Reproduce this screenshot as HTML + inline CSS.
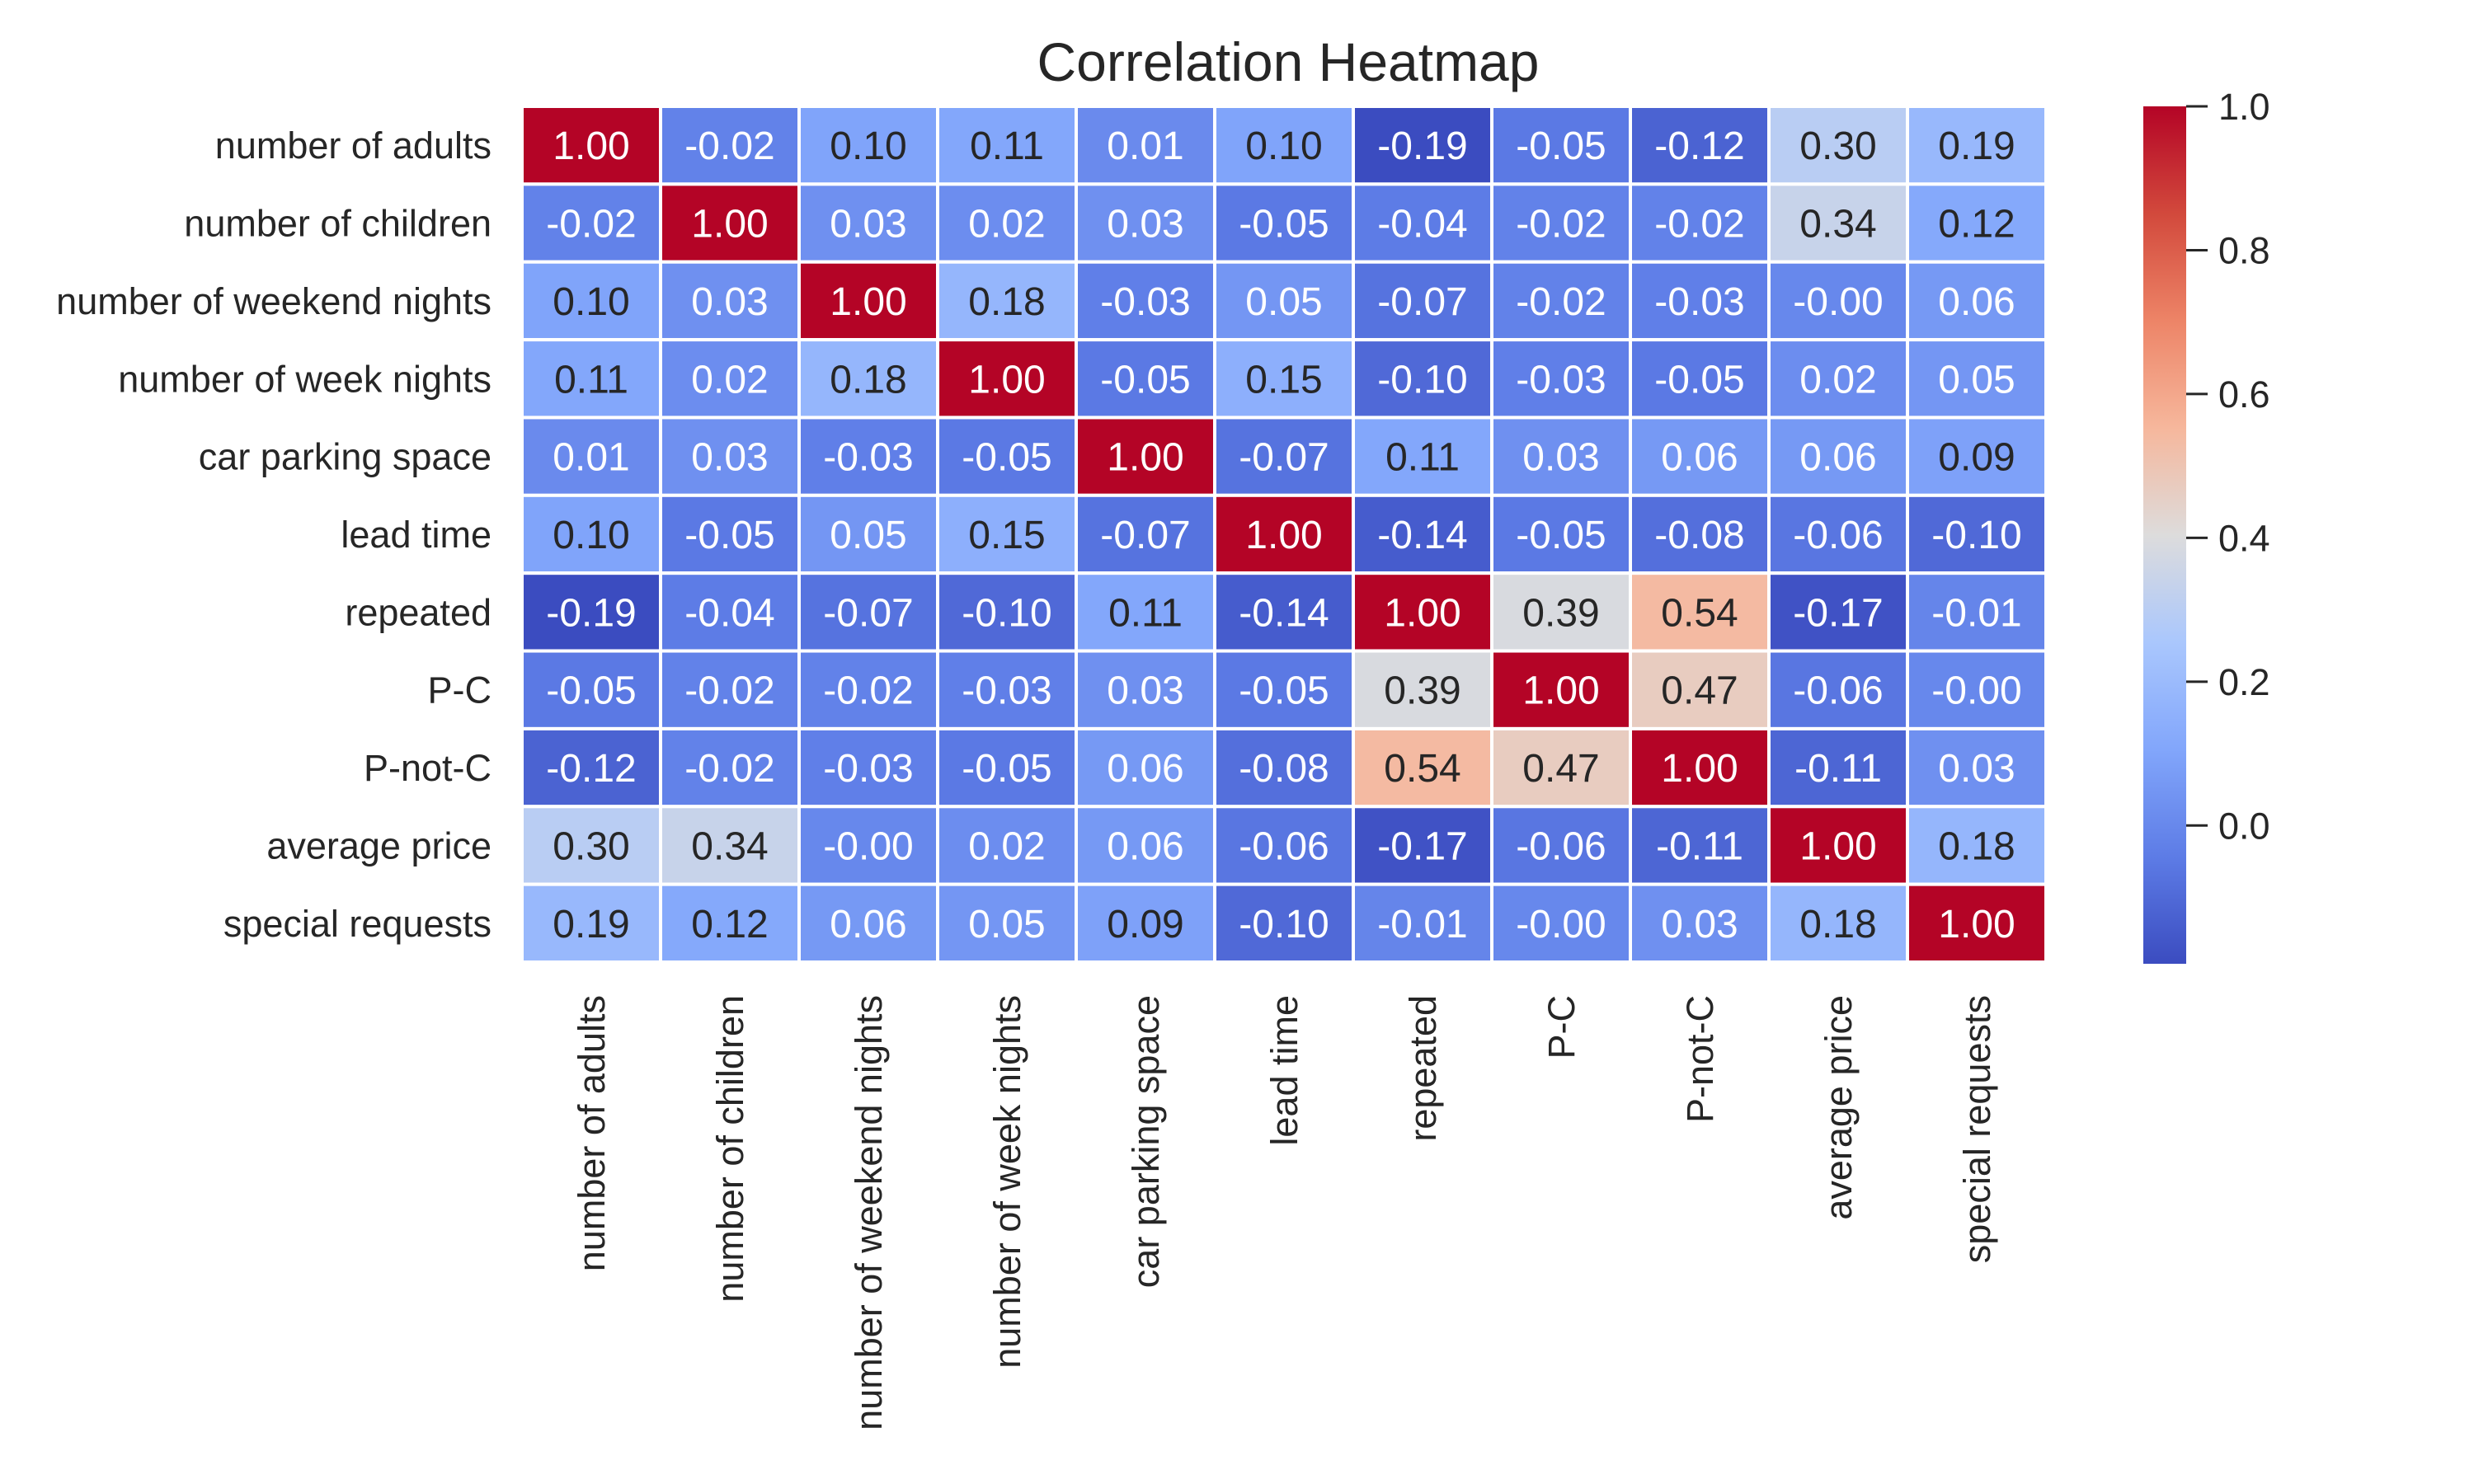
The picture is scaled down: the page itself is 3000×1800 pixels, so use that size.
<!DOCTYPE html>
<html><head><meta charset="utf-8"><style>body{margin:0;background:#fff}svg{display:block}</style></head>
<body>
<svg id="chart" width="3000" height="1800" xmlns="http://www.w3.org/2000/svg" font-family="Liberation Sans, Arial, sans-serif">
<text x="1562" y="98" font-size="66" text-anchor="middle" fill="#262626">Correlation Heatmap</text>
<g id="cells"></g><g id="ylabels"></g><g id="xlabels"></g>
<defs><linearGradient id="cg" x1="0" y1="1" x2="0" y2="0"></linearGradient></defs>
<rect x="2599" y="129" width="52" height="1040" fill="url(#cg)"/>
<g id="cbticks"></g>
</svg>
<script>
const labels=["number of adults","number of children","number of weekend nights","number of week nights","car parking space","lead time","repeated","P-C","P-not-C","average price","special requests"];
const row0=[1.00,-0.02,0.10,0.11,0.01,0.10,-0.19,-0.05,-0.12,0.30,0.19];
const row1=[-0.02,1.00,0.03,0.02,0.03,-0.05,-0.04,-0.02,-0.02,0.34,0.12];
const row2=[0.10,0.03,1.00,0.18,-0.03,0.05,-0.07,-0.02,-0.03,-0.00,0.06];
const row3=[0.11,0.02,0.18,1.00,-0.05,0.15,-0.10,-0.03,-0.05,0.02,0.05];
const row4=[0.01,0.03,-0.03,-0.05,1.00,-0.07,0.11,0.03,0.06,0.06,0.09];
const row5=[0.10,-0.05,0.05,0.15,-0.07,1.00,-0.14,-0.05,-0.08,-0.06,-0.10];
const row6=[-0.19,-0.04,-0.07,-0.10,0.11,-0.14,1.00,0.39,0.54,-0.17,-0.01];
const row7=[-0.05,-0.02,-0.02,-0.03,0.03,-0.05,0.39,1.00,0.47,-0.06,-0.00];
const row8=[-0.12,-0.02,-0.03,-0.05,0.06,-0.08,0.54,0.47,1.00,-0.11,0.03];
const row9=[0.30,0.34,-0.00,0.02,0.06,-0.06,-0.17,-0.06,-0.11,1.00,0.18];
const row10=[0.19,0.12,0.06,0.05,0.09,-0.10,-0.01,-0.00,0.03,0.18,1.00];
const cbTicks=[0.0,0.2,0.4,0.6,0.8,1.0];
const vmin=-0.19, vmax=1.0;
const matrix=[row0,row1,row2,row3,row4,row5,row6,row7,row8,row9,row10];
const L=633,T=129,W=1848,H=1038,n=labels.length,cw=W/n,ch=H/n;
const stops=[[59,76,192],[93,124,230],[130,166,251],[170,199,253],[221,220,220],[246,183,156],[237,132,103],[210,73,60],[180,4,38]];
function cmap(v){let t=Math.max(0,Math.min(1,(v-vmin)/(vmax-vmin)))*8;let i=Math.min(7,Math.floor(t)),f=t-i;
return stops[i].map((c,k)=>Math.round(c+(stops[i+1][k]-c)*f));}
function lum(c){const l=c.map(x=>{x/=255;return x<=0.03928?x/12.92:Math.pow((x+0.055)/1.055,2.4)});return 0.2126*l[0]+0.7152*l[1]+0.0722*l[2];}
const thr=lum(cmap(0.075));
function fmt(v){return (Object.is(v,-0)?"-":"")+v.toFixed(2);}
const ns="http://www.w3.org/2000/svg";
const xs=i=>L+i*cw, ys=j=>T+j*ch;
const yScale=v=>T+H*(vmax-v)/(vmax-vmin);
const cells=document.getElementById('cells');
matrix.forEach((row,j)=>row.forEach((v,i)=>{
 const c=cmap(v);
 const r=document.createElementNS(ns,'rect');
 r.setAttribute('x',xs(i));r.setAttribute('y',ys(j));r.setAttribute('width',cw);r.setAttribute('height',ch);
 r.setAttribute('fill',`rgb(${c})`);r.setAttribute('stroke','#fff');r.setAttribute('stroke-width','4');
 
 
 cells.appendChild(r);
 const t=document.createElementNS(ns,'text');
 t.setAttribute('x',xs(i)+cw/2);t.setAttribute('y',ys(j)+ch/2+17);t.setAttribute('font-size','48');
 t.setAttribute('text-anchor','middle');t.setAttribute('fill',lum(c)>thr?'#262626':'#fff');
 t.textContent=fmt(v);
 
 
 cells.appendChild(t);
}));
const yl=document.getElementById('ylabels'),xl=document.getElementById('xlabels');
labels.forEach((s,k)=>{
 const t=document.createElementNS(ns,'text');
 t.setAttribute('x',596);t.setAttribute('y',ys(k)+ch/2+16);t.setAttribute('font-size','45');t.setAttribute('text-anchor','end');t.setAttribute('fill','#262626');
 t.textContent=s;
 
 
 yl.appendChild(t);
 const u=document.createElementNS(ns,'text');
 const cx=xs(k)+cw/2+16;
 u.setAttribute('x',cx);u.setAttribute('y',1207);u.setAttribute('font-size','45');u.setAttribute('text-anchor','end');u.setAttribute('fill','#262626');
 u.setAttribute('transform',`rotate(-90 ${cx} 1207)`);
 u.textContent=s;
 
 
 xl.appendChild(u);
});
const g=document.getElementById('cg');
stops.forEach((c,k)=>{const s=document.createElementNS(ns,'stop');s.setAttribute('offset',k/8);s.setAttribute('stop-color',`rgb(${c})`);g.appendChild(s);});
const cb=document.getElementById('cbticks');
cbTicks.forEach(v=>{
 const y=yScale(v);
 const l=document.createElementNS(ns,'line');
 l.setAttribute('x1',2651);l.setAttribute('x2',2677);l.setAttribute('y1',y);l.setAttribute('y2',y);l.setAttribute('stroke','#262626');l.setAttribute('stroke-width','3');
 
 
 cb.appendChild(l);
 const t=document.createElementNS(ns,'text');
 t.setAttribute('x',2690);t.setAttribute('y',y+16);t.setAttribute('font-size','45');t.setAttribute('fill','#262626');
 t.textContent=v.toFixed(1);
 
 
 cb.appendChild(t);
});
</script>
</body></html>
